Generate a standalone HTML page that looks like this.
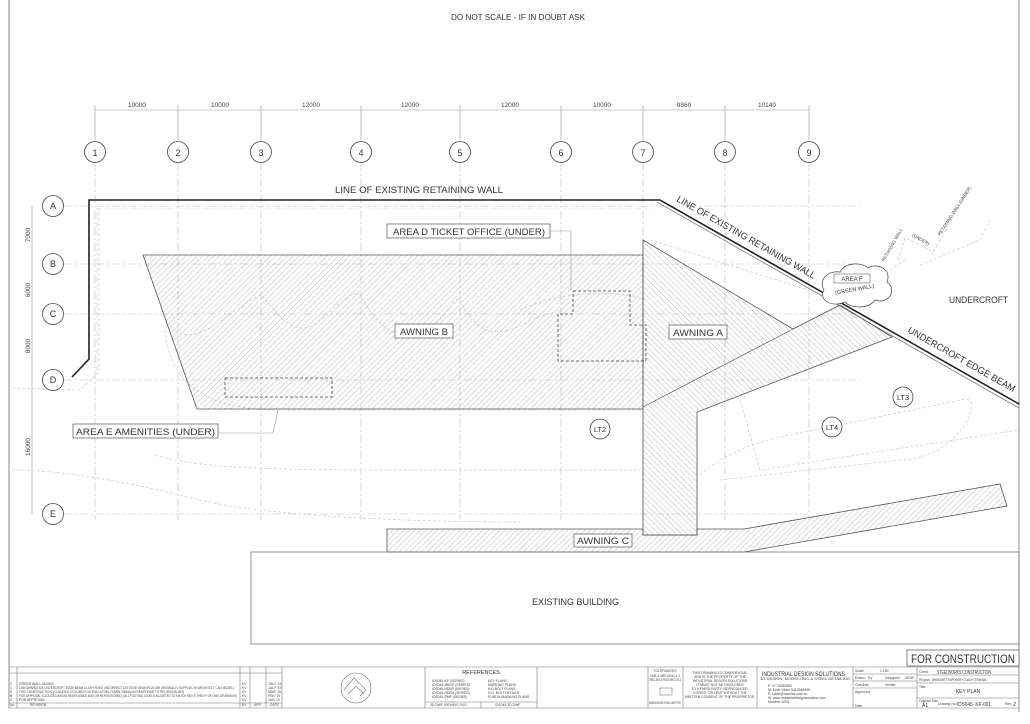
<!DOCTYPE html>
<html><head><meta charset="utf-8"><style>
html,body{margin:0;padding:0;background:#fff;}
svg{display:block;font-family:"Liberation Sans",sans-serif;}
</style></head><body>
<svg width="1030" height="724" viewBox="0 0 1030 724" xmlns="http://www.w3.org/2000/svg">
<defs>
<pattern id="h" patternUnits="userSpaceOnUse" width="4" height="4" patternTransform="rotate(45)">
<line x1="0" y1="0" x2="0" y2="4" stroke="#8a8a8a" stroke-width="0.6"/></pattern>
<pattern id="h2" patternUnits="userSpaceOnUse" width="4" height="4" patternTransform="rotate(-45)">
<line x1="0" y1="0" x2="0" y2="4" stroke="#8a8a8a" stroke-width="0.6"/></pattern>
</defs>
<rect width="1030" height="724" fill="#fff"/>
<line x1="9" y1="0" x2="9" y2="708" stroke="#888" stroke-width="1"/>
<line x1="1019" y1="0" x2="1019" y2="712" stroke="#888" stroke-width="1"/>
<text x="451" y="20" font-size="8" fill="#333" textLength="134" lengthAdjust="spacingAndGlyphs">DO NOT SCALE - IF IN DOUBT ASK</text>

<g stroke="#999" stroke-width="0.6">
<line x1="95" y1="110" x2="809" y2="110"/>
<line x1="95" y1="105" x2="95" y2="140"/><line x1="178" y1="105" x2="178" y2="140"/><line x1="261" y1="105" x2="261" y2="140"/><line x1="361" y1="105" x2="361" y2="140"/><line x1="460" y1="105" x2="460" y2="140"/><line x1="561" y1="105" x2="561" y2="140"/><line x1="643" y1="105" x2="643" y2="140"/><line x1="725" y1="105" x2="725" y2="140"/><line x1="809" y1="105" x2="809" y2="140"/>
<line x1="32" y1="206" x2="32" y2="514"/>
</g>
<g font-size="6.5" fill="#444" text-anchor="middle">
<text x="137" y="107">10000</text><text x="220" y="107">10000</text><text x="311" y="107">12000</text><text x="410" y="107">12000</text><text x="510" y="107">12000</text><text x="602" y="107">10000</text><text x="684" y="107">9860</text><text x="767" y="107">10140</text>
<text transform="translate(30,235) rotate(-90)">7000</text>
<text transform="translate(30,290) rotate(-90)">6000</text>
<text transform="translate(30,346) rotate(-90)">8000</text>
<text transform="translate(30,447) rotate(-90)">16000</text>
</g>

<g stroke="#bbb" stroke-width="0.6" stroke-dasharray="8 3 2 3">
<line x1="95" y1="163" x2="95" y2="520"/><line x1="178" y1="163" x2="178" y2="520"/><line x1="261" y1="163" x2="261" y2="520"/><line x1="361" y1="163" x2="361" y2="520"/><line x1="460" y1="163" x2="460" y2="520"/><line x1="561" y1="163" x2="561" y2="520"/><line x1="643" y1="163" x2="643" y2="520"/><line x1="725" y1="163" x2="725" y2="520"/><line x1="809" y1="163" x2="809" y2="520"/>
<line x1="64" y1="206" x2="860" y2="206"/><line x1="64" y1="264" x2="860" y2="264"/><line x1="64" y1="314" x2="860" y2="314"/><line x1="64" y1="380" x2="860" y2="380"/><line x1="64" y1="514" x2="820" y2="514"/>
</g>
<g fill="none" stroke="#ccc" stroke-width="0.7" stroke-dasharray="3 2">
<path d="M99,208 L99,372 L80,390 L10,388"/>
<path d="M175,330 C200,350 240,300 262,295 C280,320 300,340 320,320 C340,305 350,290 360,295 C380,330 400,345 430,330 C450,310 455,295 460,300 C475,335 500,340 530,320 L560,310"/>
<path d="M165,330 C170,380 200,410 280,410 L643,410"/>
<path d="M155,455 C200,470 300,470 420,470 L640,470"/>
<path d="M12,470 C60,470 120,480 200,500 C260,515 400,522 520,522"/>
<path d="M700,475 C740,440 790,435 840,425 L960,400 C990,390 960,460 900,460 L720,480"/>
<path d="M740,400 L760,470 L1019,430"/>
<path d="M520,310 C560,290 620,290 645,300"/>
<path d="M650,240 L840,300"/>
<path d="M890,270 L905,260 M920,265 L980,240 L990,220"/>
</g>

<polyline points="72,377 89,359 89,200 660,200 1019,404" fill="none" stroke="#222" stroke-width="1.6"/>
<polyline points="657,202 1019,408" fill="none" stroke="#555" stroke-width="0.6"/>
<polyline points="97,372 97,208 652,208" fill="none" stroke="#ccc" stroke-width="0.5" stroke-dasharray="6 3"/>

<polygon points="143,255 643,255 643,409 197,409" fill="url(#h)" stroke="#555" stroke-width="0.8"/>
<polygon points="643,240 793,329 840,305 892,337 697,412 697,535 643,535" fill="url(#h2)" stroke="#555" stroke-width="0.8"/>
<line x1="643" y1="407" x2="793" y2="329" stroke="#555" stroke-width="0.7"/>
<polygon points="387,529 643,529 643,535 697,535 697,529 744,529 1000,484 1007,506 744,552 387,552" fill="url(#h)" stroke="#555" stroke-width="0.8"/>

<g fill="none" stroke="#444" stroke-width="0.8" stroke-dasharray="3 2">
<rect x="225" y="378" width="107" height="19"/>
<polyline points="573,291 630,291 630,325 646,325 646,361 558,361 558,314 573,314 573,291"/>
</g>
<polyline points="550,231 571,231 571,290" fill="none" stroke="#999" stroke-width="0.6"/>
<polyline points="218,433 273,433 278,410" fill="none" stroke="#999" stroke-width="0.6"/>

<g font-size="9.5" fill="#333" lengthAdjust="spacingAndGlyphs">
<text x="335" y="193" textLength="168" lengthAdjust="spacingAndGlyphs">LINE OF EXISTING RETAINING WALL</text>
<rect x="387" y="224" width="163" height="14" fill="#fff" stroke="#555" stroke-width="0.7"/>
<text x="393" y="235" textLength="152" lengthAdjust="spacingAndGlyphs">AREA D TICKET OFFICE (UNDER)</text>
<rect x="395" y="324" width="58" height="14" fill="#fff" stroke="#555" stroke-width="0.7"/>
<text x="400" y="335" textLength="48" lengthAdjust="spacingAndGlyphs">AWNING B</text>
<rect x="669" y="325" width="58" height="14" fill="#fff" stroke="#555" stroke-width="0.7"/>
<text x="673" y="336" textLength="50" lengthAdjust="spacingAndGlyphs">AWNING A</text>
<rect x="73" y="424" width="145" height="14" fill="#fff" stroke="#555" stroke-width="0.7"/>
<text x="76" y="435" textLength="139" lengthAdjust="spacingAndGlyphs">AREA E AMENITIES (UNDER)</text>
<rect x="574" y="534" width="58" height="13" fill="#fff" stroke="#555" stroke-width="0.7"/>
<text x="577" y="544" textLength="52" lengthAdjust="spacingAndGlyphs">AWNING C</text>
<text x="949" y="303" textLength="59" lengthAdjust="spacingAndGlyphs">UNDERCROFT</text>
<text x="532" y="605" textLength="87" lengthAdjust="spacingAndGlyphs">EXISTING BUILDING</text>
<text transform="translate(676,201) rotate(29.6)" textLength="158" lengthAdjust="spacingAndGlyphs">LINE OF EXISTING RETAINING WALL</text>
<text transform="translate(907,332) rotate(29.6)" textLength="122" lengthAdjust="spacingAndGlyphs">UNDERCROFT EDGE BEAM</text>
</g>
<g font-size="4.5" fill="#444">
<text transform="translate(884,262) rotate(-60)">RETAINING WALL</text>
<text transform="translate(912,236) rotate(30)">(UNDER)</text>
<text transform="translate(940,236) rotate(-57)">RETAINING WALL (UNDER)</text>
</g>
<polyline points="898,260 905,238 930,250 933,255" fill="none" stroke="#aaa" stroke-width="0.5" stroke-dasharray="3 2"/>
<line x1="933" y1="253" x2="968" y2="190" stroke="#aaa" stroke-width="0.5" stroke-dasharray="4 2"/>
<path d="M824,290 C818,280 828,270 840,272 C845,262 862,262 868,268 C878,262 892,270 887,282 C898,290 888,305 875,300 C868,310 850,308 845,302 C832,308 818,300 824,290 Z" fill="#fff" stroke="#444" stroke-width="0.7"/>
<rect x="834" y="274" width="36" height="9" fill="none" stroke="#444" stroke-width="0.5"/>
<text x="852" y="281" font-size="6" text-anchor="middle" fill="#333">AREA F</text>
<text x="855" y="291" font-size="5.5" text-anchor="middle" fill="#333" transform="rotate(-10 855 291)">(GREEN WALL)</text>

<g fill="#fff" stroke="#444" stroke-width="0.8">
<circle cx="95" cy="152" r="10.5"/><circle cx="178" cy="152" r="10.5"/><circle cx="261" cy="152" r="10.5"/><circle cx="361" cy="152" r="10.5"/><circle cx="460" cy="152" r="10.5"/><circle cx="561" cy="152" r="10.5"/><circle cx="643" cy="152" r="10.5"/><circle cx="725" cy="152" r="10.5"/><circle cx="809" cy="152" r="10.5"/>
<circle cx="53" cy="206" r="10.5"/><circle cx="53" cy="264" r="10.5"/><circle cx="53" cy="314" r="10.5"/><circle cx="53" cy="380" r="10.5"/><circle cx="53" cy="514" r="10.5"/>
<circle cx="600" cy="429" r="10"/><circle cx="903" cy="397" r="10"/><circle cx="832" cy="427" r="10"/>
</g>
<g font-size="9" fill="#333" text-anchor="middle">
<text x="95" y="156">1</text><text x="178" y="156">2</text><text x="261" y="156">3</text><text x="361" y="156">4</text><text x="460" y="156">5</text><text x="561" y="156">6</text><text x="643" y="156">7</text><text x="725" y="156">8</text><text x="809" y="156">9</text>
<text x="53" y="209">A</text><text x="53" y="267">B</text><text x="53" y="317">C</text><text x="53" y="383">D</text><text x="53" y="517">E</text>
<text x="600" y="432" font-size="7.5">LT2</text><text x="903" y="400" font-size="7.5">LT3</text><text x="832" y="430" font-size="7.5">LT4</text>
</g>

<rect x="251" y="552" width="768" height="92" fill="none" stroke="#777" stroke-width="0.8"/>

<rect x="907" y="650" width="112" height="16" fill="#fff" stroke="#666" stroke-width="0.8"/>
<text x="911" y="663" font-size="12" fill="#333" textLength="104" lengthAdjust="spacingAndGlyphs">FOR CONSTRUCTION</text>

<g stroke="#777" stroke-width="0.6" fill="none">
<line x1="9" y1="667" x2="1019" y2="667"/>
<line x1="9" y1="708" x2="1019" y2="708"/>
<line x1="282" y1="667" x2="282" y2="708"/>
<line x1="425" y1="667" x2="425" y2="708"/>
<line x1="537" y1="667" x2="537" y2="708"/>
<line x1="648" y1="667" x2="648" y2="708"/>
<line x1="683" y1="667" x2="683" y2="708"/>
<line x1="757" y1="667" x2="757" y2="708"/>
<line x1="853" y1="667" x2="853" y2="708"/>
<line x1="917" y1="667" x2="917" y2="708"/>
<line x1="9" y1="673" x2="282" y2="673"/>
<line x1="9" y1="703" x2="282" y2="703"/>
<line x1="240" y1="667" x2="240" y2="708"/><line x1="250" y1="667" x2="250" y2="708"/><line x1="266" y1="667" x2="266" y2="708"/>
<line x1="17" y1="667" x2="17" y2="708"/>
<line x1="425" y1="702" x2="537" y2="702"/><line x1="481" y1="702" x2="481" y2="708"/>
<line x1="917" y1="675" x2="1019" y2="675"/><line x1="917" y1="683" x2="1019" y2="683"/><line x1="917" y1="698" x2="1019" y2="698"/>
<line x1="853" y1="674" x2="917" y2="674"/><line x1="853" y1="681" x2="917" y2="681"/><line x1="853" y1="688" x2="917" y2="688"/>
<circle cx="356" cy="688" r="15"/>
<polyline points="344,690 354,678 366,690 360,696"/>
<polyline points="348,694 356,686 364,694"/>
<rect x="660" y="688" width="12" height="7"/>
</g>
<g font-size="3.4" fill="#444">
<text x="10" y="685">2</text><text x="19" y="685">GREEN WALL ADDED</text>
<text x="10" y="689">1</text><text x="19" y="689" textLength="215" lengthAdjust="spacingAndGlyphs">LINK AWNING A/S UNDERCROFT EDGE BEAM CLASH FIXED (INCORRECT U/S EDGE BEAM RL25.495 ORIGINALLY SUPPLIED IN ARCHITECT CAD MODEL)</text>
<text x="10" y="693">0</text><text x="19" y="693" textLength="165" lengthAdjust="spacingAndGlyphs">FOR CONSTRUCTION (CLOUDED COLUMN FOOTING LEVEL DOWN 150mm IN RESPONSE TO RFI-IDS045-003)</text>
<text x="10" y="697">B</text><text x="19" y="697" textLength="218" lengthAdjust="spacingAndGlyphs">FOR APPROVAL (CLOUDED AREAS REDESIGNED AND OR REPOSITIONED) (ALL FOOTING LEVELS ADJUSTED TO MATCH REV E THEN F OF DWG DRAWINGS)</text>
<text x="10" y="701">A</text><text x="19" y="701">FOR APPROVAL</text>
<text x="10" y="706">No.</text><text x="30" y="706">REVISION</text><text x="242" y="706">BY</text><text x="254" y="706">APP.</text><text x="270" y="706">DATE</text>
<text x="242" y="685">KV</text><text x="242" y="689">KV</text><text x="242" y="693">KV</text><text x="242" y="697">KV</text><text x="242" y="701">KV</text>
<text x="268" y="685">JULY '19</text><text x="268" y="689">JULY '19</text><text x="268" y="693">MAR '19</text><text x="268" y="697">FEB '19</text><text x="268" y="701">JAN '19</text>
<text x="432" y="682">IDS045-KP (SERIES)</text><text x="488" y="682">KEY PLANS</text>
<text x="432" y="686">IDS045-MKGP (SERIES)</text><text x="488" y="686">MARKING PLANS</text>
<text x="432" y="690">IDS045-HDBP (SERIES)</text><text x="488" y="690">H.D.BOLT PLANS</text>
<text x="432" y="694">IDS045-HDBD (SERIES)</text><text x="488" y="694">H.D. BOLT DETAILS</text>
<text x="432" y="698">IDS045-PMP (SERIES)</text><text x="488" y="698">PURLIN MARKING PLANS</text>
<text x="430" y="706">3D DWF VIEWING FILE</text><text x="495" y="706">IDS045 3D DWF</text>
<text x="665" y="672" text-anchor="middle">TOLERANCES</text><text x="665" y="677" text-anchor="middle" textLength="30" lengthAdjust="spacingAndGlyphs">FAB. &amp; WELDING ± 1</text><text x="665" y="681" text-anchor="middle" textLength="32" lengthAdjust="spacingAndGlyphs">DRILLING &amp; PUNCHING ±0.5</text>
<text x="665" y="704" text-anchor="middle" textLength="32" lengthAdjust="spacingAndGlyphs">DIMENSIONS IN MILLIMETERS</text>
<g text-anchor="middle">
<text x="720" y="674">THIS DRAWING IS CONFIDENTIAL</text>
<text x="720" y="678">AND IS THE PROPERTY OF THE</text>
<text x="720" y="682">INDUSTRIAL DESIGN SOLUTIONS</text>
<text x="720" y="686">IT MUST NOT BE DISCLOSED</text>
<text x="720" y="690">TO A THIRD PARTY, REPRODUCED,</text>
<text x="720" y="694">COPIED, OR LENT WITHOUT THE</text>
<text x="720" y="698">WRITTEN CONSENT OF THE PROPRIETOR.</text>
</g>
<text x="760" y="680" textLength="90" lengthAdjust="spacingAndGlyphs">3D DESIGN, MODELLING &amp; STEEL DETAILING</text>
<text x="768" y="687">P: 07 33453584</text><text x="768" y="691">M: Keith Virtue 0412548499</text><text x="768" y="695">E: kdvirt@ozemail.com.au</text><text x="768" y="699">W: www.industrialdesignsolutions.com</text><text x="768" y="703">Member AISD.</text>
<text x="855" y="672">Scale:</text><text x="880" y="672">1:150</text>
<text x="855" y="679">Drawn:</text><text x="868" y="679">KV</text><text x="885" y="679">Designed:</text><text x="905" y="679">ARUP</text>
<text x="855" y="686">Checked:</text><text x="885" y="686">Verifier:</text>
<text x="855" y="693">Approved:</text><text x="855" y="707">Date:</text>
<text x="919" y="673">Client:</text><text x="919" y="681">Project:</text><text x="932" y="681" textLength="55" lengthAdjust="spacingAndGlyphs">BRISBANE TEMPORARY COACH TERMINAL</text>
<text x="919" y="688">Title:</text><text x="919" y="702">Original Size</text><text x="938" y="705">Drawing No:</text><text x="1005" y="705">Rev:</text>
</g>
<g fill="#333">
<text x="481" y="674" font-size="5.5" text-anchor="middle">REFERENCES</text>
<text x="762" y="676" font-size="6" textLength="83" lengthAdjust="spacingAndGlyphs">INDUSTRIAL DESIGN SOLUTIONS</text>
<text x="937" y="674" font-size="5" textLength="54" lengthAdjust="spacingAndGlyphs">STEELWORKS CONSTRUCTION</text>
<text x="968" y="693" font-size="5" text-anchor="middle">KEY PLAN</text>
<text x="922" y="707" font-size="5">A1</text>
<text x="957" y="706" font-size="5.5" textLength="34" lengthAdjust="spacingAndGlyphs">IDS045-  KP-001</text>
<text x="1013" y="706" font-size="5.5">2</text>
</g>
</svg>
</body></html>
